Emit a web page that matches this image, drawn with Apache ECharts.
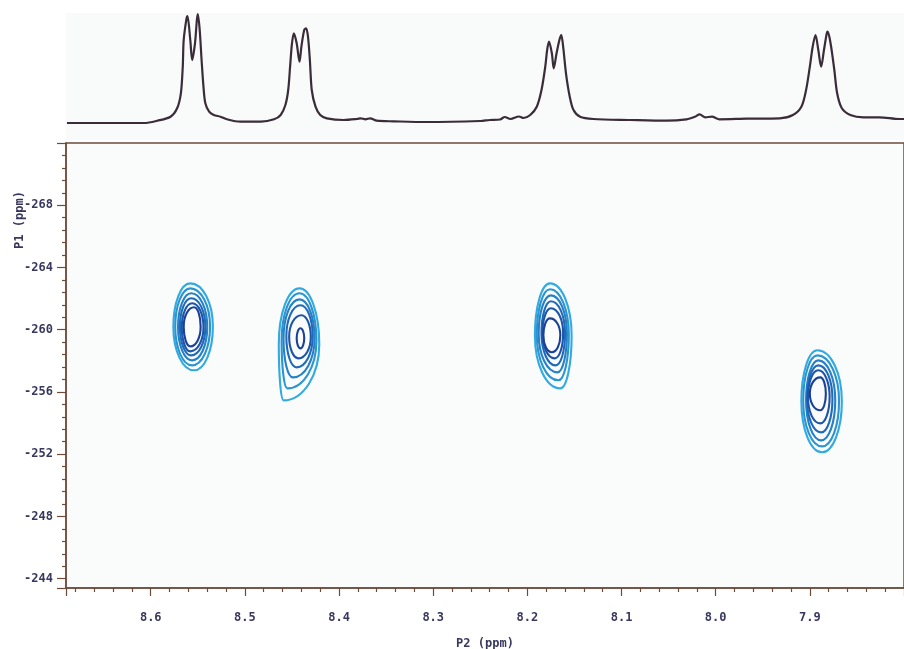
<!DOCTYPE html>
<html>
<head>
<meta charset="utf-8">
<script src="https://cdn.jsdelivr.net/npm/echarts@6/dist/echarts.min.js"></script>
<style>
html, body { margin: 0; padding: 0; background: #fff; }
#chart { width: 904px; height: 649px; }
</style>
</head>
<body>
<div id="chart"></div>
<script>
// axis ranges (ppm)
const p2Range = [7.8, 8.69]
const p1Range = [-272, -243.4]

// 1D projection on top: chemical shift (ppm) and intensity
const specPpm = [8.689, 8.607, 8.593, 8.579, 8.572, 8.568, 8.566, 8.565, 8.562, 8.561, 8.558, 8.556, 8.553, 8.551, 8.550, 8.548, 8.546, 8.544, 8.542, 8.538, 8.533, 8.526, 8.519, 8.505, 8.483, 8.469, 8.462, 8.457, 8.454, 8.452, 8.450, 8.448, 8.445, 8.442, 8.440, 8.437, 8.435, 8.433, 8.431, 8.429, 8.425, 8.420, 8.413, 8.395, 8.381, 8.377, 8.372, 8.367, 8.360, 8.342, 8.307, 8.250, 8.240, 8.229, 8.224, 8.218, 8.209, 8.204, 8.197, 8.190, 8.185, 8.181, 8.179, 8.177, 8.174, 8.172, 8.169, 8.166, 8.164, 8.162, 8.159, 8.155, 8.151, 8.144, 8.130, 8.091, 8.052, 8.031, 8.022, 8.017, 8.011, 8.004, 7.996, 7.967, 7.932, 7.918, 7.909, 7.904, 7.900, 7.897, 7.894, 7.891, 7.888, 7.885, 7.882, 7.881, 7.878, 7.874, 7.871, 7.866, 7.857, 7.843, 7.826, 7.805, 7.800]
const specInt = [0, 0, 2.3, 6.3, 14.7, 29.7, 56.3, 83, 104.7, 107, 83, 63, 79.7, 103, 109, 93, 63, 36.3, 19.7, 11.3, 8, 6.3, 3.7, 1.3, 1.3, 3.7, 8, 18, 33, 56.3, 79.7, 89.7, 79.7, 61.3, 76.3, 93, 94.7, 86.3, 63, 33, 16.3, 8, 4.7, 3, 4, 4.7, 3.7, 4.7, 2.3, 1.7, 1, 2, 3, 3.5, 6, 4, 6.5, 5, 8, 16.3, 33, 56.3, 73, 81.3, 69.7, 54.7, 69.7, 83, 88, 76.3, 49.7, 26.3, 13, 6.3, 4, 3, 2.3, 3.7, 6.3, 8.7, 5.7, 6.3, 3.7, 4.3, 4.7, 8, 16.3, 33, 56.3, 76.3, 88, 73, 56.3, 73, 89.7, 91.3, 79.7, 53, 29.7, 14.7, 8, 5.7, 5.7, 4, 4]

// contour rings, outer to inner: [P2 left, P2 right, P1 top, P1 bottom, P2 at top, P2 at bottom]
const ringsA = [
  [8.576, 8.534, -262.98, -257.39, 8.558, 8.554],
  [8.574, 8.537, -262.66, -257.71, 8.558, 8.556],
  [8.571, 8.540, -262.34, -258.03, 8.557, 8.556],
  [8.569, 8.542, -262.02, -258.35, 8.557, 8.557],
  [8.567, 8.544, -261.70, -258.61, 8.556, 8.558],
  [8.565, 8.547, -261.44, -258.93, 8.554, 8.558]
]
const ringsB = [
  [8.464, 8.421, -262.66, -255.46, 8.442, 8.459],
  [8.461, 8.424, -262.34, -256.23, 8.442, 8.455],
  [8.459, 8.426, -261.95, -256.94, 8.442, 8.449],
  [8.456, 8.428, -261.57, -257.58, 8.441, 8.445],
  [8.453, 8.430, -260.93, -258.16, 8.440, 8.443],
  [8.445, 8.437, -260.09, -258.80, 8.441, 8.441]
]
const ringsC = [
  [8.192, 8.153, -262.98, -256.23, 8.176, 8.165],
  [8.190, 8.156, -262.60, -256.75, 8.176, 8.167],
  [8.188, 8.158, -262.21, -257.26, 8.175, 8.168],
  [8.185, 8.160, -261.83, -257.71, 8.175, 8.170],
  [8.184, 8.162, -261.38, -258.16, 8.175, 8.171],
  [8.183, 8.165, -260.73, -258.55, 8.176, 8.174]
]
const ringsD = [
  [7.909, 7.866, -258.68, -252.12, 7.892, 7.887],
  [7.907, 7.869, -258.35, -252.50, 7.892, 7.887],
  [7.904, 7.873, -258.03, -252.89, 7.891, 7.888],
  [7.903, 7.876, -257.71, -253.40, 7.891, 7.888],
  [7.902, 7.879, -257.39, -253.98, 7.891, 7.889],
  [7.900, 7.883, -256.94, -254.82, 7.889, 7.889]
]
const ringColors = ['#33aadf', '#2b95d2', '#2580c6', '#216ab9', '#1d55a9', '#1a4098']

const axisColor = '#6e4c3c'
const textColor = '#38385e'
const monoFont = 'DejaVu Sans Mono'

const specData = specPpm.map((p, i) => [p, specInt[i]])
const ringData = [ringsA, ringsB, ringsC, ringsD].flatMap(peak => peak.map((r, i) => r.concat(i)))

function renderRing(params, api) {
  const top = api.value(2)
  const bottom = api.value(3)
  const mid = (top + bottom) / 2
  const L = api.coord([api.value(0), mid])
  const R = api.coord([api.value(1), mid])
  const T = api.coord([api.value(4), top])
  const B = api.coord([api.value(5), bottom])
  const k = 0.5523
  const d = [
    'M', T[0], T[1],
    'C', T[0] + k * (R[0] - T[0]), T[1], R[0], R[1] - k * (R[1] - T[1]), R[0], R[1],
    'C', R[0], R[1] + k * (B[1] - R[1]), B[0] + k * (R[0] - B[0]), B[1], B[0], B[1],
    'C', B[0] - k * (B[0] - L[0]), B[1], L[0], L[1] + k * (B[1] - L[1]), L[0], L[1],
    'C', L[0], L[1] - k * (L[1] - T[1]), T[0] - k * (T[0] - L[0]), T[1], T[0], T[1],
    'Z'
  ].join(' ')
  return {
    type: 'path',
    shape: { pathData: d },
    style: { fill: 'none', stroke: ringColors[api.value(6)], lineWidth: 2.1 }
  }
}

const chart = echarts.init(document.getElementById('chart'))
chart.setOption({
  animation: false,
  backgroundColor: '#ffffff',
  grid: [
    { left: 66, right: 0, top: 13, height: 127, outerBoundsMode: 'none', show: true, backgroundColor: '#f9fafa', borderWidth: 0 },
    { left: 66, right: 0, top: 143, bottom: 61, outerBoundsMode: 'none', show: true, backgroundColor: '#fafbfb', borderColor: axisColor, borderWidth: 1.5 }
  ],
  xAxis: [
    { gridIndex: 0, type: 'value', inverse: true, min: p2Range[0], max: p2Range[1], show: false },
    {
      gridIndex: 1,
      type: 'value',
      inverse: true,
      min: p2Range[0],
      max: p2Range[1],
      interval: 0.1,
      axisLine: { lineStyle: { color: axisColor, width: 1.5 } },
      axisTick: { length: 8, lineStyle: { color: axisColor, width: 1.2 } },
      minorTick: { show: true, splitNumber: 5, length: 4, lineStyle: { color: axisColor, width: 1.2 } },
      splitLine: { show: false },
      axisLabel: {
        margin: 24,
        showMinLabel: false,
        showMaxLabel: false,
        color: textColor,
        fontFamily: monoFont,
        fontWeight: 'bold',
        fontSize: 12,
        formatter: v => v.toFixed(1)
      },
      name: 'P2 (ppm)',
      nameLocation: 'middle',
      nameGap: 50,
      nameTextStyle: { color: textColor, fontFamily: monoFont, fontWeight: 'bold', fontSize: 12 }
    }
  ],
  yAxis: [
    { gridIndex: 0, type: 'value', min: -17, max: 110, show: false },
    {
      gridIndex: 1,
      type: 'value',
      inverse: true,
      min: p1Range[0],
      max: p1Range[1],
      interval: 4,
      axisLine: { show: true, lineStyle: { color: axisColor, width: 1.5 } },
      axisTick: { show: true, length: 9, lineStyle: { color: axisColor, width: 1.2 } },
      minorTick: { show: true, splitNumber: 5, length: 4, lineStyle: { color: axisColor, width: 1.2 } },
      splitLine: { show: false },
      axisLabel: {
        margin: 13,
        showMinLabel: false,
        showMaxLabel: false,
        color: textColor,
        fontFamily: monoFont,
        fontWeight: 'bold',
        fontSize: 12
      }
    }
  ],
  graphic: [
    {
      type: 'text',
      x: 20,
      y: 220,
      rotation: Math.PI / 2,
      style: {
        text: 'P1 (ppm)',
        fill: textColor,
        font: 'bold 12px "DejaVu Sans Mono"',
        align: 'center',
        verticalAlign: 'middle'
      }
    }
  ],
  series: [
    {
      type: 'line',
      xAxisIndex: 0,
      yAxisIndex: 0,
      data: specData,
      showSymbol: false,
      smooth: 0.3,
      lineStyle: { color: '#3a2c38', width: 2.2 },
      silent: true
    },
    {
      type: 'custom',
      xAxisIndex: 1,
      yAxisIndex: 1,
      coordinateSystem: 'cartesian2d',
      encode: { x: [0, 1, 4, 5], y: [2, 3] },
      data: ringData,
      renderItem: renderRing,
      silent: true
    }
  ]
})
</script>
</body>
</html>
